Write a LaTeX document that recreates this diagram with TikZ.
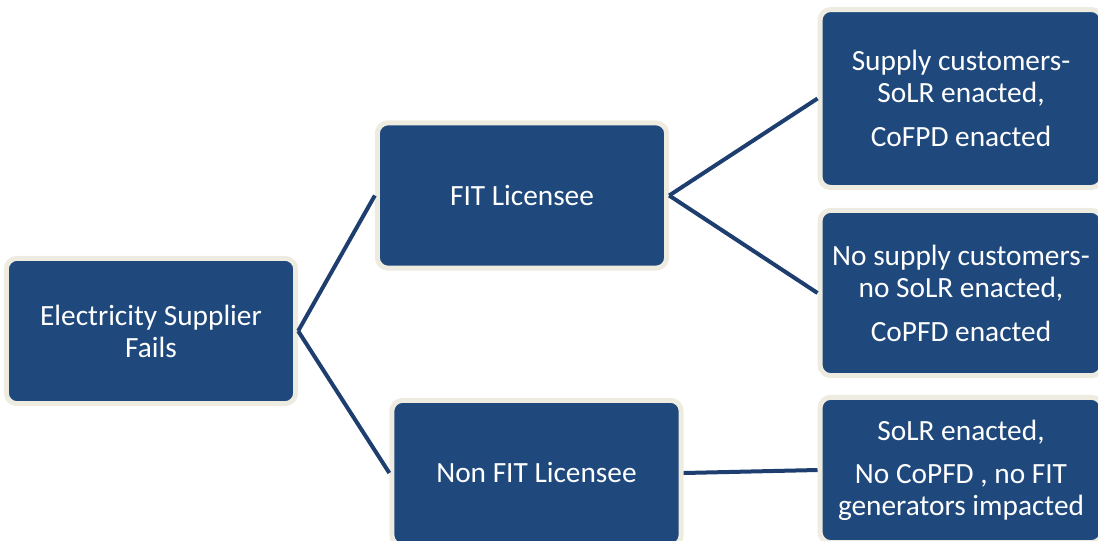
\documentclass[tikz,border=0pt]{standalone}
\usepackage{fontspec}
\setsansfont{Carlito}
\usepackage{tikz}
\usetikzlibrary{calc}
\usetikzlibrary{positioning}
\definecolor{boxblue}{RGB}{31,73,125}
\definecolor{boxrim}{RGB}{238,236,225}
\definecolor{linkblue}{RGB}{29,62,110}
\tikzset{
	punktbox/.style={
		rectangle, 
		rounded corners=8pt, 
		fill=boxblue,
		draw=boxrim, line width=3.75pt,
		text=white,
		align=center,
		minimum width=217pt, 
		minimum height=109pt},
	endbox/.style={
		punktbox,
		% draw=white,
		minimum width=211.5pt},
	link/.style={draw=linkblue, line width=3pt},
}
\begin{document}
\begin{tikzpicture}
	[x=0.75pt,y=-0.75pt,
	font=\sffamily\fontsize{22}{24}\selectfont]
	\useasboundingbox (0,0) rectangle (1098,540);
	\clip (0,0) rectangle (1098,540);
	\node[punktbox] (fails) at (151,331) {Electricity Supplier\\Fails};
	\node[punktbox] (fit) at (522,195.5) {FIT Licensee};
	\node[punktbox] (nonfit) at (536.5,473) {Non FIT Licensee};
	\node[endbox, minimum height=133.5pt] (supply) at (961,98.5) {Supply customers-\\SoLR enacted,\\[9pt]CoFPD enacted};
	\node[endbox, minimum height=124pt] (nosupply) at (961,293) {No supply customers-\\no SoLR enacted,\\[9pt]CoPFD enacted};
	\node[endbox] (solr) at (961,470) {SoLR enacted,\\[8pt]No CoPFD , no FIT\\generators impacted};
	
	\draw[link] (fails.east) -- (fit.west);
	\draw[link] (fails.east) -- (nonfit.west);
	\draw[link] (fit.east) -- (supply.west);
	\draw[link] (fit.east) -- (nosupply.west);
	\draw[link] (nonfit.east) -- (solr.west);
\end{tikzpicture}
\end{document}
